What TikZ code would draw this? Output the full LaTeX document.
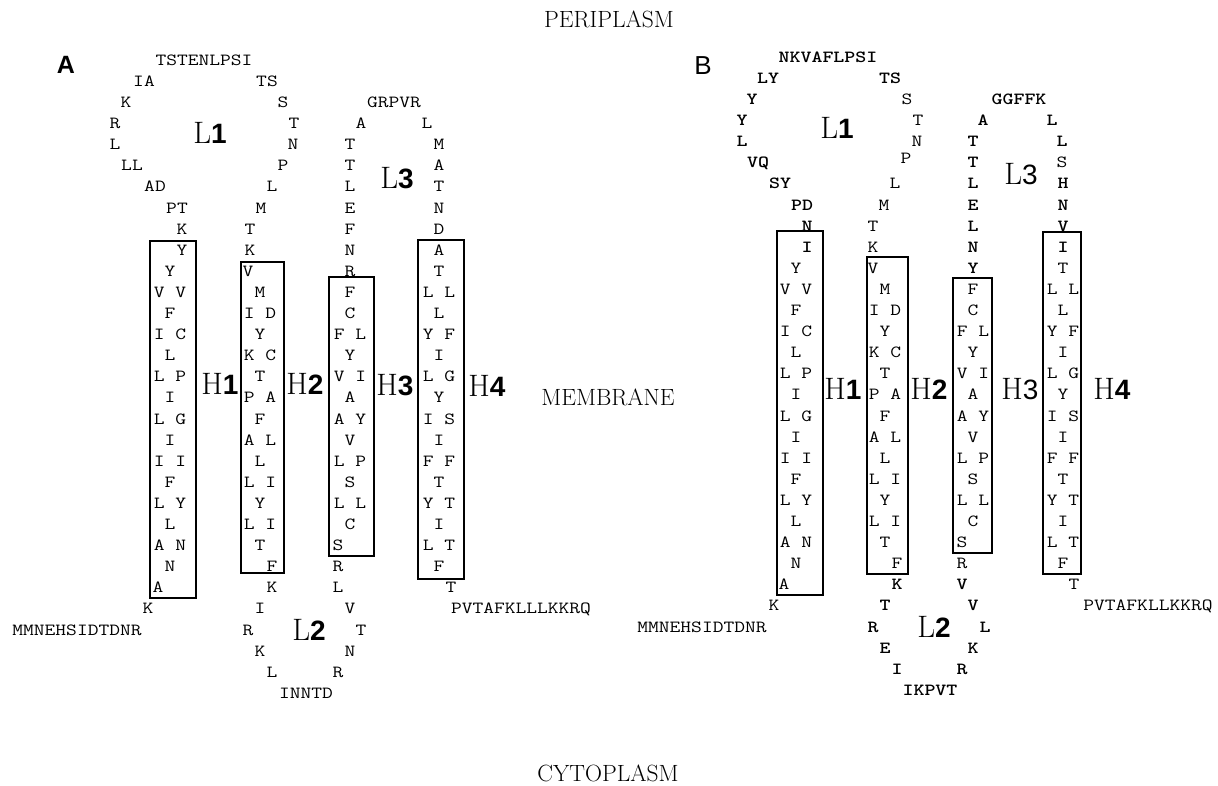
\documentclass[tikz,border=0pt]{standalone}
\usepackage{fontspec}
\usepackage{graphicx}
\newfontfamily\lsans{Liberation Sans}
\newcommand\stx[1]{\scalebox{1.23}[1]{#1}}
\newcommand\biglab[2]{{\fontsize{31}{31}\selectfont #1}{\lsans\bfseries\fontsize{28}{28}\selectfont #2}}
\newcommand\biglabr[2]{{\fontsize{31}{31}\selectfont #1}{\lsans\fontsize{28}{28}\selectfont #2}}
\newcounter{sqn}
\newcommand\seqA[3]{\stepcounter{sqn}\node[sq] (sa\arabic{sqn}) at ({#1},{250+21.1*(#2)}) {\stx{#3}};}
\newcommand\seqB[3]{\stepcounter{sqn}\node[sq] (sb\arabic{sqn}) at ({#1+624},{247+21.1*(#2)}) {\stx{#3}};}
\newcommand\seqBb[3]{\stepcounter{sqn}\node[sqb] (sb\arabic{sqn}) at ({#1+624},{247+21.1*(#2)}) {\stx{#3}};}
\def\hOne{1/Y,2/V V,3/F,4/I C,5/L,6/L P,7/I,8/L G,9/I,10/I I,11/F,12/L Y,13/L,14/A N,15/N}
\def\hTwo{2/M,3/I D,4/Y,5/K C,6/T,7/P A,8/F,9/A L,10/L,11/L I,12/Y,13/L I,14/T}
\def\hThree{2/F,3/C,4/F L,5/Y,6/V I,7/A,8/A Y,9/V,10/L P,11/S,12/L L,13/C}
\def\hFour{1/T,2/L L,3/L,4/Y F,5/I,6/L G,7/Y,8/I S,9/I,10/F F,11/T,12/Y T,13/I,14/L T,15/F}
\tikzset{
  sq/.style={inner sep=0pt, outer sep=0pt, font=\fontsize{17}{17}\selectfont\ttfamily, text height=10.4pt, text depth=0pt},
  sqb/.style={sq, font=\fontsize{17}{17}\selectfont\ttfamily\bfseries},
  tm/.style={draw, line width=1.8pt, inner sep=0pt, outer sep=0pt},
  lab/.style={inner sep=0pt, outer sep=0pt},
  region/.style={inner sep=0pt, font=\fontsize{23.5}{23.5}\selectfont},
}
\begin{document}
\begin{tikzpicture}[x=1pt,y=-1pt]
\useasboundingbox (0,0) rectangle (1218,785);
\fill[white] (0,0) rectangle (1218,785);

% region labels
\node[region] (peri) at (609,19) {PERIPLASM};
\node[region] (memb) at (608,397) {MEMBRANE};
\node[region] (cyto) at (608,773) {CYTOPLASM};

% ================= PANEL A =================
\node[lab, font=\lsans\bfseries\fontsize{25}{25}\selectfont] (panA) at (66,65) {A};
% helix boxes
\node[tm, minimum width=46pt, minimum height=357pt] (boxA1) at (173,419.5) {};
\node[tm, minimum width=43pt, minimum height=311pt] (boxA2) at (262.5,417.5) {};
\node[tm, minimum width=45pt, minimum height=279pt] (boxA3) at (351.5,416.5) {};
\node[tm, minimum width=46pt, minimum height=339pt] (boxA4) at (441,409.5) {};
% big labels
\node[lab] (L1A) at (210,133) {\biglab{L}{1}};
\node[lab] (L3A) at (397,178) {\biglab{L}{3}};
\node[lab] (L2A) at (309,630) {\biglab{L}{2}};
\node[lab] (H1A) at (220,384) {\biglab{H}{1}};
\node[lab] (H2A) at (305,384) {\biglab{H}{2}};
\node[lab] (H3A) at (395,385) {\biglab{H}{3}};
\node[lab] (H4A) at (487,386) {\biglab{H}{4}};
% L1 loop
\seqA{204}{-9}{TSTENLPSI}
\seqA{144}{-8}{IA} \seqA{267}{-8}{TS}
\seqA{126}{-7}{K} \seqA{283}{-7}{S}
\seqA{115}{-6}{R} \seqA{294}{-6}{T}
\seqA{115}{-5}{L} \seqA{293}{-5}{N}
\seqA{132}{-4}{LL} \seqA{283}{-4}{P}
\seqA{155}{-3}{AD} \seqA{272}{-3}{L}
\seqA{177}{-2}{PT} \seqA{261}{-2}{M}
\seqA{182}{-1}{K} \seqA{250}{-1}{T}
\seqA{182}{0}{Y} \seqA{250}{0}{K}
% H1
\foreach \rr/\tx in \hOne {\seqA{170}{\rr}{\tx}}
\seqA{158}{16}{A}
\seqA{148}{17}{K}
\seqA{77}{18}{MMNEHSIDTDNR}
% H2 and L2
\seqA{248}{1}{V}
\foreach \rr/\tx in \hTwo {\seqA{260}{\rr}{\tx}}
\seqA{272}{15}{F} \seqA{272}{16}{K} \seqA{260}{17}{I} \seqA{248}{18}{R}
\seqA{260}{19}{K} \seqA{272}{20}{L} \seqA{306}{21}{INNTD}
% H3 and L3
\seqA{394}{-7}{GRPVR}
\seqA{361}{-6}{A} \seqA{427}{-6}{L}
\foreach \rr/\tx in {-5/T,-4/T,-3/L,-2/E,-1/F,0/N,1/R} {\seqA{350}{\rr}{\tx}}
\foreach \rr/\tx in \hThree {\seqA{350}{\rr}{\tx}}
\seqA{338}{14}{S} \seqA{338}{15}{R} \seqA{338}{16}{L} \seqA{350}{17}{V}
\seqA{361}{18}{T} \seqA{350}{19}{N} \seqA{338}{20}{R}
% H4
\foreach \rr/\tx in {-5/M,-4/A,-3/T,-2/N,-1/D,0/A} {\seqA{439}{\rr}{\tx}}
\foreach \rr/\tx in \hFour {\seqA{439}{\rr}{\tx}}
\seqA{451}{16}{T}
\seqA{521}{17}{PVTAFKLLLKKRQ}

% ================= PANEL B =================
\node[lab, font=\lsans\fontsize{26}{26}\selectfont] (panB) at (703,66) {B};
\node[tm, minimum width=46pt, minimum height=364pt] (boxB1) at (800,413) {};
\node[tm, minimum width=41pt, minimum height=317pt] (boxB2) at (887.5,415.5) {};
\node[tm, minimum width=39pt, minimum height=275pt] (boxB3) at (972.5,415.5) {};
\node[tm, minimum width=38pt, minimum height=342pt] (boxB4) at (1062,403) {};
\node[lab] (L1B) at (837,128) {\biglab{L}{1}};
\node[lab] (L3B) at (1021,174) {\biglabr{L}{3}};
\node[lab] (L2B) at (934,627) {\biglab{L}{2}};
\node[lab] (H1B) at (843,389) {\biglab{H}{1}};
\node[lab] (H2B) at (929,389) {\biglab{H}{2}};
\node[lab] (H3B) at (1020,389) {\biglabr{H}{3}};
\node[lab] (H4B) at (1112,389) {\biglab{H}{4}};
% L1 loop
\seqBb{204}{-9}{NKVAFLPSI}
\seqBb{144}{-8}{LY} \seqBb{266}{-8}{TS}
\seqBb{128}{-7}{Y} \seqB{283}{-7}{S}
\seqBb{118}{-6}{Y} \seqB{294}{-6}{T}
\seqBb{118}{-5}{L} \seqB{293}{-5}{N}
\seqBb{134}{-4}{VQ} \seqB{282}{-4.2}{P}
\seqBb{156}{-3}{SY} \seqB{271}{-3}{L}
\seqBb{178}{-2}{PD} \seqB{260}{-2}{M}
\seqBb{183}{-1}{N} \seqB{249}{-1}{T}
\seqBb{183}{0}{I} \seqB{249}{0}{K}
% H1
\foreach \rr/\tx in \hOne {\seqB{172}{\rr}{\tx}}
\seqB{160}{16}{A}
\seqB{150}{17}{K}
\seqB{78}{18}{MMNEHSIDTDNR}
% H2 and L2
\seqB{249}{1}{V}
\foreach \rr/\tx in \hTwo {\seqB{261}{\rr}{\tx}}
\seqB{273}{15}{F} \seqBb{273}{16}{K} \seqBb{261}{17}{T} \seqBb{249}{18}{R}
\seqBb{261}{19}{E} \seqBb{273}{20}{I} \seqBb{306}{21}{IKPVT}
% H3 and L3
\seqBb{395}{-7}{GGFFK}
\seqBb{359}{-6}{A} \seqBb{428}{-6}{L}
\foreach \rr/\tx in {-5/T,-4/T,-3/L,-2/E,-1/L,0/N,1/Y} {\seqBb{349}{\rr}{\tx}}
\foreach \rr/\tx in \hThree {\seqB{349}{\rr}{\tx}}
\seqB{338}{14}{S} \seqB{338}{15}{R} \seqBb{338}{16}{V} \seqBb{349}{17}{V}
\seqBb{361}{18}{L} \seqBb{349}{19}{K} \seqBb{338}{20}{R}
% H4
\seqBb{438}{-5}{L} \seqB{438}{-4}{S}
\foreach \rr/\tx in {-3/H,-2/N,-1/V,0/I} {\seqBb{439}{\rr}{\tx}}
\foreach \rr/\tx in \hFour {\seqB{439}{\rr}{\tx}}
\seqB{450}{16}{T}
\seqB{524}{17}{PVTAFKLLKKRQ}
\end{tikzpicture}
\end{document}
